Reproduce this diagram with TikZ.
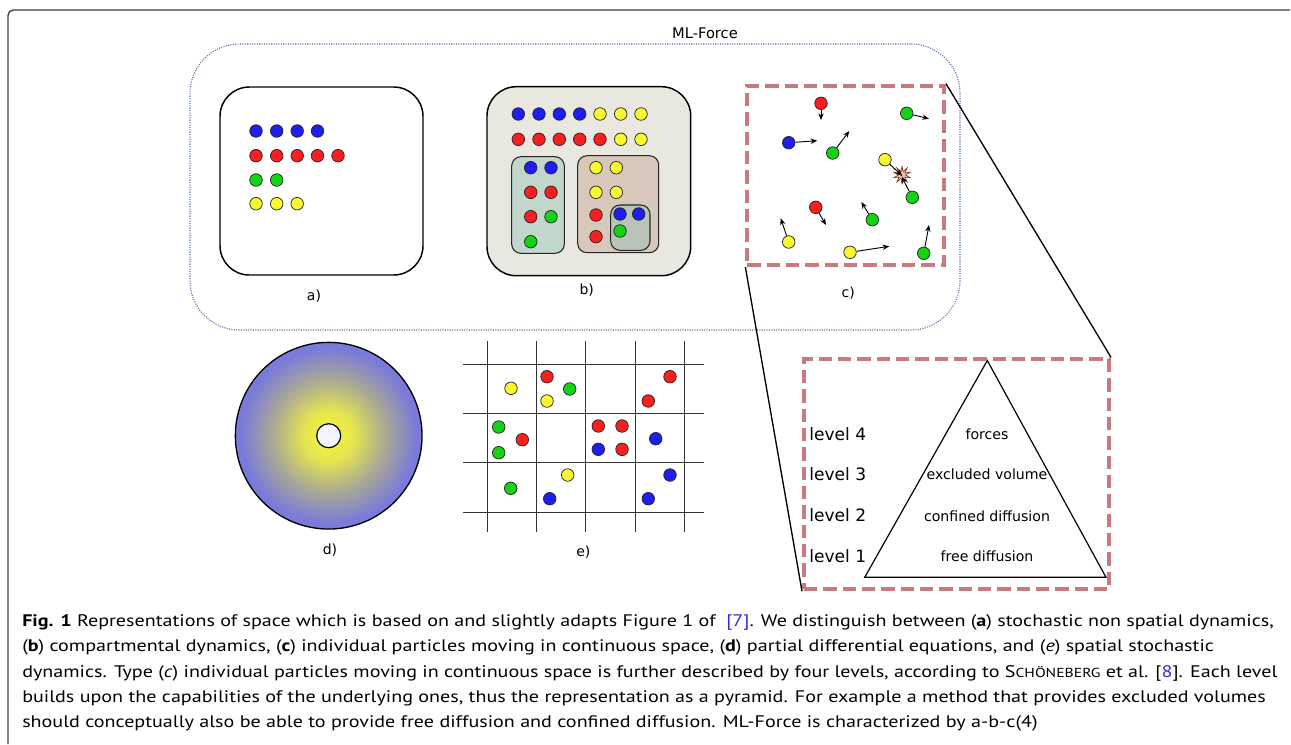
\documentclass[tikz,border=0pt]{standalone}
\usepackage{fontspec}
\setmainfont{DejaVu Sans}
\newfontfamily\capfont[FakeStretch=1.2]{PT Sans}
\usetikzlibrary{shapes.geometric,arrows.meta}
\definecolor{pblue}{RGB}{30,30,240}
\definecolor{pred}{RGB}{250,30,30}
\definecolor{pgreen}{RGB}{20,210,20}
\definecolor{pyellow}{RGB}{248,248,50}
\definecolor{mlblue}{RGB}{80,110,160}
\definecolor{dashred}{RGB}{200,122,126}
\definecolor{bbg}{RGB}{232,232,224}
\definecolor{bleft}{RGB}{194,214,204}
\definecolor{bright}{RGB}{216,200,188}
\definecolor{binner}{RGB}{184,196,184}
\definecolor{citeblue}{RGB}{40,40,230}
\definecolor{starbrown}{RGB}{140,50,40}
\definecolor{startan}{RGB}{220,200,170}
\definecolor{framegray}{RGB}{60,60,60}
\definecolor{dcA}{RGB}{245,245,60}
\definecolor{dcB}{RGB}{230,230,78}
\definecolor{dcC}{RGB}{170,170,148}
\definecolor{dcD}{RGB}{122,122,218}
\pgfdeclareradialshading{pdeshade}{\pgfpoint{0bp}{0bp}}{%
  color(0bp)=(dcA);
  color(6.5bp)=(dcB);
  color(15bp)=(dcC);
  color(23.5bp)=(dcD);
  color(50bp)=(dcD)}
\begin{document}
\begin{tikzpicture}[x=0.75pt,y=-0.75pt,
  part/.style={circle,draw=black!85,line width=0.55pt,minimum size=9.4pt,inner sep=0pt},
  pb/.style={part,fill=pblue},
  pr/.style={part,fill=pred},
  pg/.style={part,fill=pgreen},
  py/.style={part,fill=pyellow},
  panel/.style={draw=black,line width=1.1pt,rounded corners=22pt,inner sep=0pt},
  subbox/.style={draw=black!85,line width=0.8pt,rounded corners=7pt,inner sep=0pt},
  zoombox/.style={draw=dashred,line width=3pt,dash pattern=on 10pt off 4.5pt,inner sep=0pt},
  plabel/.style={font=\fontsize{10.5}{12}\selectfont,inner sep=0pt},
  lvl/.style={font=\fontsize{12.8}{14}\selectfont,anchor=west,inner sep=0pt},
  pyr/.style={font=\fontsize{10.6}{12}\selectfont,inner sep=0pt},
  mv/.style={-{Stealth[length=5pt,width=4pt]},line width=0.7pt},
  capline/.style={anchor=base west,inner sep=0pt,font=\capfont\fontsize{12.55}{18}\selectfont},
  gridline/.style={draw=black!80,line width=0.7pt}
]
\useasboundingbox (0,0) rectangle (1291,744);
% frame
\draw[framegray,line width=1pt,rounded corners=4pt] (8,744) -- (8,10) -- (1290,10);
% ML-Force box
\node[draw=mlblue,densely dotted,line width=0.8pt,rounded corners=37pt,minimum width=577.5pt,minimum height=214.5pt,inner sep=0pt] (ml) at (575,187) {};
\node[font=\fontsize{11}{13}\selectfont,inner sep=0pt] (mltitle) at (705,33) {ML-Force};
% panel a
\node[panel,minimum width=152.25pt,minimum height=141pt] (pa) at (321.5,181) {};
\foreach \x [count=\i] in {256,276.7,297.2,317.5} \node[pb] (a-b\i) at (\x,131) {};
\foreach \x [count=\i] in {256,276.7,297.2,317.5,338} \node[pr] (a-r\i) at (\x,155.7) {};
\foreach \x [count=\i] in {256,276.7} \node[pg] (a-g\i) at (\x,180) {};
\foreach \x [count=\i] in {256,276.7,297.2} \node[py] (a-y\i) at (\x,203.7) {};
\node[plabel] (la) at (314,296) {a)};
% panel b
\node[panel,fill=bbg,minimum width=152.8pt,minimum height=141.75pt] (pbx) at (588.85,181.2) {};
\node[subbox,fill=bleft,minimum width=39.5pt,minimum height=72.5pt] (bl) at (538,205) {};
\node[subbox,fill=bright,minimum width=60.75pt,minimum height=72.75pt] (br) at (618.2,204.2) {};
\node[subbox,fill=binner,minimum width=29.5pt,minimum height=34pt] (bi) at (630.35,227.65) {};
\foreach \x/\c [count=\i] in {518.3/pb,539/pb,559.3/pb,579.7/pb,600/py,620.7/py,641/py} \node[\c] (b1-\i) at (\x,114) {};
\foreach \x/\c [count=\i] in {518.3/pr,539/pr,559.3/pr,579.7/pr,600/pr,620.7/py,641/py} \node[\c] (b2-\i) at (\x,139.3) {};
\node[pb] (bl1) at (530.7,167.7) {};
\node[pb] (bl2) at (551,167.7) {};
\node[pr] (bl3) at (530.7,192.3) {};
\node[pr] (bl4) at (551,192.3) {};
\node[pr] (bl5) at (530.7,216.7) {};
\node[pg] (bl6) at (551,216.7) {};
\node[pg] (bl7) at (530.7,241.7) {};
\node[py] (br1) at (596,167.7) {};
\node[py] (br2) at (616.3,167.7) {};
\node[py] (br3) at (596,192.3) {};
\node[py] (br4) at (616.3,192.3) {};
\node[pr] (br5) at (596,215) {};
\node[pr] (br6) at (596,236.7) {};
\node[pb] (bi1) at (620,214) {};
\node[pb] (bi2) at (638.7,214) {};
\node[pg] (bi3) at (620,231) {};
\node[plabel] (lb) at (586.7,290) {b)};
% panel c
\node[zoombox,minimum width=147.5pt,minimum height=134.5pt] (pc) at (845.7,175.4) {};
\node[star,star points=10,star point ratio=2.4,draw=starbrown,fill=startan,line width=0.5pt,minimum size=13pt,inner sep=0pt] (hit) at (902,175) {};
\node[pr] (c1) at (821,103.3) {};
\coordinate (c1e) at (821,120);
\node[pg] (c2) at (906.7,113.3) {};
\coordinate (c2e) at (929,118.7);
\node[pb] (c3) at (788.7,142.7) {};
\coordinate (c3e) at (817.3,140.7);
\node[pg] (c4) at (832.7,153) {};
\coordinate (c4e) at (849.3,131);
\node[py] (c5) at (885,159.7) {};
\coordinate (c5e) at (902.3,176);
\node[pg] (c6) at (912.3,197.3) {};
\coordinate (c6e) at (901.7,176.7);
\node[pr] (c7) at (815.7,207.3) {};
\coordinate (c7e) at (826,225);
\node[pg] (c8) at (872.3,219.7) {};
\coordinate (c8e) at (861.3,202);
\node[py] (c9) at (788.7,242) {};
\coordinate (c9e) at (780.7,218.3);
\node[py] (c10) at (850,252.3) {};
\coordinate (c10e) at (889.3,246.3);
\node[pg] (c11) at (923.7,253.3) {};
\coordinate (c11e) at (929,225);
\foreach \i in {1,...,11} \draw[mv] (c\i) -- (c\i e);
\node[plabel] (lc) at (848.3,292.7) {c)};
% pyramid box
\node[zoombox,minimum width=228.75pt,minimum height=172.5pt] (pp) at (956.5,474.3) {};
\draw[line width=1pt] (pc.north east) -- (pp.north east);
\draw[line width=1pt] (pc.south west) -- (pp.south west);
\coordinate (apex) at (987.3,360.5);
\coordinate (bright) at (1106,577.3);
\coordinate (bleftc) at (864.7,577.3);
\draw[line width=0.9pt,line join=miter] (apex) -- (bright) -- (bleftc) -- cycle;
\node[lvl] (l4) at (809,434) {level 4};
\node[lvl] (l3) at (809,474) {level 3};
\node[lvl] (l2) at (809,515) {level 2};
\node[lvl] (l1) at (809,556) {level 1};
\node[pyr] (t4) at (987,434) {forces};
\node[pyr] (t3) at (987,474) {excluded volume};
\node[pyr] (t2) at (987,516) {confined diffusion};
\node[pyr] (t1) at (987,556) {free diffusion};
% panel d
\node[circle,draw=black,line width=1pt,shading=pdeshade,minimum size=140pt,inner sep=0pt] (pd) at (328.7,435.7) {};
\node[circle,draw=black,line width=0.9pt,fill={rgb,255:red,244;green,244;blue,255},minimum size=18pt,inner sep=0pt] (pdc) at (328.7,435.7) {};
\node[plabel] (ld) at (330,550) {d)};
% panel e
\foreach \x in {487.3,536.7,585.7,635,684.3} \draw[gridline] (\x,341) -- (\x,532.3);
\foreach \y in {364.3,413.3,462.7,512} \draw[gridline] (463,\y) -- (704.3,\y);
\node[py] (e1) at (511,388.3) {};
\node[pr] (e2) at (547,376.7) {};
\node[pg] (e3) at (569.7,389) {};
\node[py] (e4) at (547,401) {};
\node[pr] (e5) at (670,376.7) {};
\node[pr] (e6) at (648.3,401) {};
\node[pg] (e7) at (498.7,427) {};
\node[pr] (e8) at (522.3,439.7) {};
\node[pg] (e9) at (498.7,452.7) {};
\node[pr] (e10) at (598.3,426) {};
\node[pr] (e11) at (622,426) {};
\node[pb] (e12) at (598.3,449.3) {};
\node[pr] (e13) at (622,449.3) {};
\node[pb] (e14) at (655.7,438.7) {};
\node[py] (e15) at (567.7,475) {};
\node[pg] (e16) at (510.7,488.3) {};
\node[pb] (e17) at (549.7,498.7) {};
\node[pb] (e18) at (670,475) {};
\node[pb] (e19) at (648.3,498.7) {};
\node[plabel] (le) at (583.3,551.7) {e)};
% caption
\node[capline] (cap1) at (22,626) {\textbf{Fig. 1} Representations of space which is based on and slightly adapts Figure 1 of \ \textcolor{citeblue}{[7]}. We distinguish between (\textbf{a}) stochastic non spatial dynamics,};
\node[capline] (cap2) at (22,651.5) {(\textbf{b}) compartmental dynamics, (\textbf{c}) individual particles moving in continuous space, (\textbf{d}) partial differential equations, and (\textit{e}) spatial stochastic};
\node[capline] (cap3) at (22,677) {dynamics. Type (\textit{c}) individual particles moving in continuous space is further described by four levels, according to S{\fontsize{9.8}{12}\selectfont CHÖNEBERG} et al. [\textcolor{citeblue}{8}]. Each level};
\node[capline] (cap4) at (22,702.5) {builds upon the capabilities of the underlying ones, thus the representation as a pyramid. For example a method that provides excluded volumes};
\node[capline] (cap5) at (22,727.5) {should conceptually also be able to provide free diffusion and confined diffusion. ML-Force is characterized by a-b-c(4)};
\end{tikzpicture}
\end{document}
